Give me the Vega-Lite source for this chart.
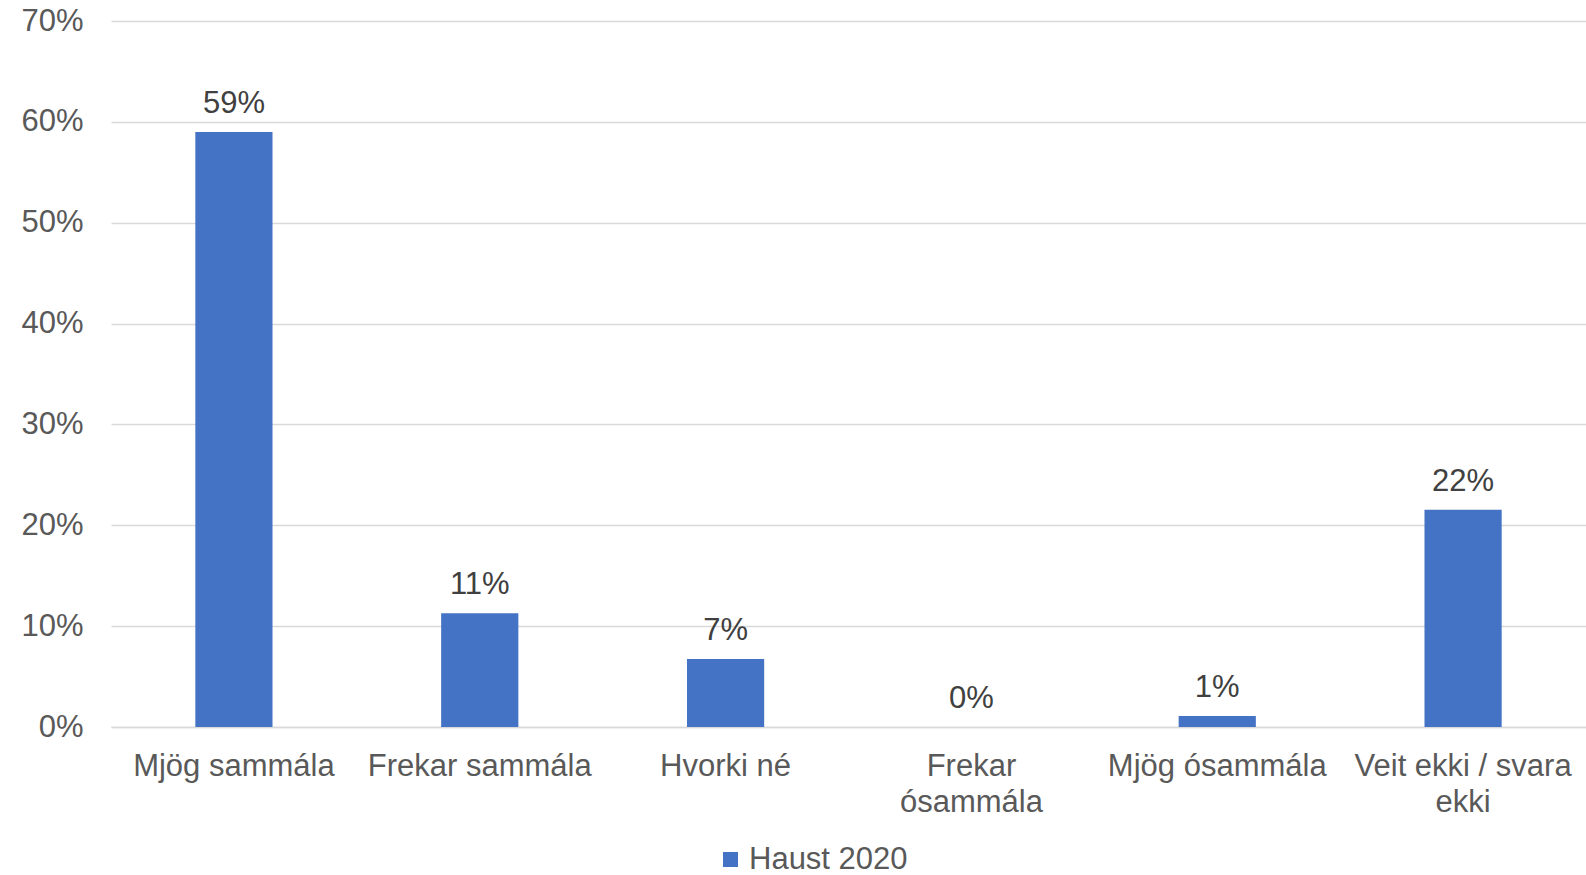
{
  "$schema": "https://vega.github.io/schema/vega-lite/v6.json",
  "autosize": {"type": "none"},
  "padding": {"left": 111, "top": 21, "right": 0, "bottom": 148},
  "width": 1475,
  "height": 706,
  "background": "white",
  "config": {
    "view": {"stroke": null},
    "font": "Liberation Sans",
    "axis": {"labelFont": "Liberation Sans", "labelColor": "#595959", "labelFontSize": 31}
  },
  "data": {
    "values": [
      {"category": "Mjög sammála", "value": 0.590, "series": "Haust 2020"},
      {"category": "Frekar sammála", "value": 0.1127, "series": "Haust 2020"},
      {"category": "Hvorki né", "value": 0.0674, "series": "Haust 2020"},
      {"category": "Frekar ósammála", "value": 0.0, "series": "Haust 2020"},
      {"category": "Mjög ósammála", "value": 0.0109, "series": "Haust 2020"},
      {"category": "Veit ekki / svara ekki", "value": 0.2154, "series": "Haust 2020"}
    ]
  },
  "encoding": {
    "x": {
      "field": "category",
      "type": "nominal",
      "sort": null,
      "scale": {"paddingInner": 0.686, "paddingOuter": 0.343},
      "axis": {
        "title": null,
        "labelAngle": 0,
        "labelLimit": 0,
        "ticks": false,
        "labelPadding": 24,
        "labelLineHeight": 36,
        "labelBaseline": "top",
        "labelOverlap": false,
        "domain": true,
        "domainColor": "#d9d9d9",
        "domainWidth": 1.5,
        "grid": false,
        "labelExpr": "datum.label == 'Frekar ósammála' ? ['Frekar','ósammála'] : datum.label == 'Veit ekki / svara ekki' ? ['Veit ekki / svara','ekki'] : datum.label"
      }
    },
    "y": {
      "field": "value",
      "type": "quantitative",
      "scale": {"domain": [0, 0.7], "nice": false},
      "axis": {
        "title": null,
        "format": ".0%",
        "values": [0, 0.1, 0.2, 0.3, 0.4, 0.5, 0.6, 0.7],
        "ticks": false,
        "domain": false,
        "labelPadding": 28,
        "gridColor": "#d9d9d9",
        "gridWidth": 1.5
      }
    }
  },
  "layer": [
    {
      "mark": {"type": "bar"},
      "encoding": {
        "color": {
          "field": "series",
          "type": "nominal",
          "scale": {"range": ["#4472C4"]},
          "legend": {
            "title": null,
            "orient": "none",
            "legendX": 604,
            "legendY": 823,
            "padding": 0,
            "symbolType": "square",
            "symbolSize": 225,
            "symbolStrokeWidth": 0,
            "labelFontSize": 31,
            "labelColor": "#595959",
            "labelFont": "Liberation Sans",
            "labelOffset": 3
          }
        }
      }
    },
    {
      "mark": {"type": "text", "baseline": "alphabetic", "dy": -19, "fontSize": 31, "color": "#404040", "font": "Liberation Sans"},
      "encoding": {
        "text": {"field": "value", "type": "quantitative", "format": ".0%"}
      }
    }
  ]
}
